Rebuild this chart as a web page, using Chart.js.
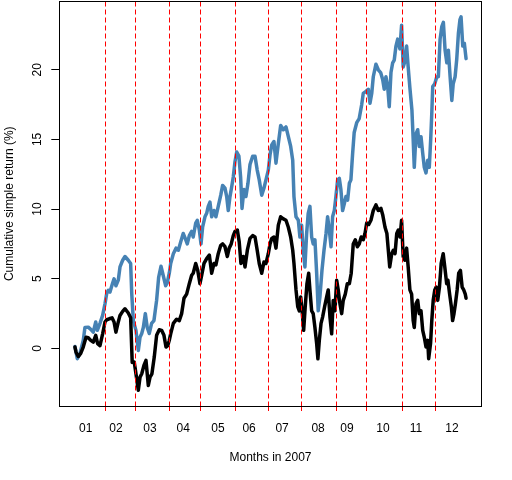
<!DOCTYPE html>
<html>
<head>
<meta charset="utf-8">
<script src="https://cdn.jsdelivr.net/npm/chart.js@4.4.1/dist/chart.umd.min.js"></script>
<style>
  html, body { margin: 0; padding: 0; background: #fff; }
  canvas { display: block; }
</style>
</head>
<body>
<canvas id="returnChart" width="512" height="480"></canvas>
<script>
// month labels and where they sit (trading day index)
const monthLabels = ['01', '02', '03', '04', '05', '06', '07', '08', '09', '10', '11', '12'];
const monthLabelDays = [7.9, 27.2, 49, 70.2, 92.4, 112.3, 133.4, 156.4, 174.9, 197.9, 219, 242];
// boundaries between months (dashed red lines)
const monthBreaks = [20.5, 39.5, 61.5, 81.5, 103.5, 124.5, 145.5, 168.5, 187.5, 210.5, 231.5];
const yTicks = [0, 5, 10, 15, 20];

// blue series: trading day and cumulative return (%)
const blueDays = [1, 2.5, 4.2, 6.3, 7.4, 9.5, 11.7, 12.7, 14.3, 15.3, 17, 18.7, 20.2, 21.3, 22.3, 23.4, 25.1, 26, 27.2, 28.7,
  29.8, 31.5, 33, 35.1, 36.6, 37.3, 38.3, 40, 41.5, 42.6, 43.7, 44.7, 46, 47.2, 48.5, 50, 51.5, 53.2, 54.5, 56,
  57.5, 59, 60, 61.3, 62.2, 63.9, 65.6, 67.1, 68.6, 70.2, 71.5, 72.8, 74.1, 75.6, 76.6, 78.2, 79.2, 80.5, 81.6, 82.6,
  84.1, 85.2, 86.2, 87.3, 88.4, 89.9, 91.1, 92.6, 94.2, 95.4, 96.9, 98, 99, 100.1, 101.2, 102.2, 103.3, 104.4, 105.8, 106.9,
  107.8, 109, 110.3, 111.6, 112.9, 114.6, 116.1, 117.5, 118.8, 120.4, 121.8, 123.1, 124.6, 125.7, 126.8, 128.2, 129.5, 131, 132.5, 134.2,
  135.9, 137.4, 138.9, 140.2, 141, 142.3, 143.8, 144.8, 145.9, 146.9, 148, 149.1, 150.1, 151.2, 152.3, 153.3, 154.4, 155.5, 156.5, 157.6,
  158.9, 160.2, 161.5, 162.5, 163.6, 164.7, 165.7, 166.8, 167.8, 168.9, 170, 171, 172.1, 173.2, 174.2, 175.3, 176.4, 177.4, 178.5, 179.5,
  181.1, 182.7, 184.3, 185.3, 187, 188.5, 189.6, 190.7, 191.7, 193.4, 194.9, 196.4, 197.7, 198.7, 199.8, 200.9, 201.9, 203, 204.1, 205.1,
  206.2, 207.3, 208.7, 209.8, 210.8, 211.9, 213, 214, 215.1, 216.4, 217.2, 217.9, 219, 220.1, 221.1, 222.2, 223.3, 224.3, 225.4, 226.5,
  227.5, 228.4, 229.1, 229.7, 231, 232.3, 233.3, 234.4, 235.5, 236.5, 237.6, 238.7, 239.7, 240.8, 241.9, 242.8, 244, 245, 246.1, 247.1,
  247.8, 248.9, 249.9, 251];
const blueReturn = [0.14, -0.74, -0.36, 0.58, 1.5, 1.53, 1.3, 1.17, 1.9, 1.3, 1.8, 2.37, 3.2, 3.95, 4.17, 4.05, 4.7, 5.0, 4.5, 4.9,
  5.85, 6.33, 6.6, 6.33, 6.1, 3.95, 2.0, 1.3, -0.14, 0.8, 1.07, 1.5, 2.5, 1.5, 1.07, 1.8, 2.0, 3.45, 5.1, 5.9,
  5.2, 4.5, 4.7, 5.4, 6.1, 6.8, 7.2, 7.05, 7.65, 8.25, 7.9, 7.5, 8.1, 8.4, 8.0, 9.0, 9.2, 8.5, 7.5, 8.7,
  9.45, 9.7, 10.2, 10.5, 9.45, 9.9, 9.45, 10.2, 11.0, 11.7, 11.5, 10.9, 9.9, 10.9, 11.6, 12.3, 13.4, 14.1, 13.8, 12.3,
  10.05, 11.4, 10.9, 11.85, 13.2, 13.8, 13.8, 12.8, 12.1, 11.0, 11.5, 12.1, 12.8, 13.9, 14.6, 14.85, 13.3, 14.7, 16.0, 15.7,
  15.9, 15.2, 14.5, 13.5, 10.9, 9.45, 9.2, 8.0, 8.85, 7.05, 5.85, 8.25, 9.7, 10.2, 8.0, 7.5, 7.8, 5.4, 2.7, 3.7,
  5.6, 7.05, 8.25, 9.45, 8.5, 7.3, 9.45, 9.9, 10.9, 12.1, 12.2, 11.4, 9.9, 10.4, 10.9, 10.65, 11.85, 12.1, 14.0, 15.5,
  16.2, 16.5, 17.5, 18.3, 18.45, 18.6, 17.6, 18.3, 19.5, 20.4, 20.0, 19.8, 19.3, 18.6, 19.5, 18.8, 17.35, 19.8, 20.5, 20.7,
  21.7, 22.2, 21.5, 23.2, 20.2, 20.6, 21.7, 20.2, 18.7, 17.1, 15.0, 13.0, 15.4, 15.7, 14.5, 15.2, 14.0, 13.0, 12.6, 13.5,
  13.0, 15.0, 16.9, 18.8, 19.0, 19.5, 19.5, 22.2, 23.1, 23.4, 21.4, 20.5, 21.4, 19.5, 17.8, 19.0, 19.5, 20.7, 22.6, 23.6,
  23.8, 21.7, 21.9, 20.8];

// black series: trading day and cumulative return (%)
const blackDays = [1, 1.7, 3.1, 4.7, 6.3, 8.1, 9.5, 11.1, 12.7, 14.3, 15.5, 17, 18.7, 20.2, 21.3, 22.9, 24.7, 26, 27.2, 28.7,
  29.8, 31.5, 33, 35.1, 36.6, 37.6, 38.9, 40, 41.5, 42.6, 43.7, 45.1, 46.4, 47.9, 49, 50.2, 51.7, 53.2, 54.9, 56.4,
  57.9, 59.2, 60.3, 61.3, 62.2, 63.9, 66, 67.7, 69.2, 70.7, 72.4, 74.1, 75.6, 76.6, 78.2, 79.5, 80.9, 82, 83.5, 85.2,
  86.9, 88.4, 89.9, 91.1, 92.6, 94.2, 95.4, 96.9, 98.4, 99.6, 100.9, 102.2, 103.3, 104.8, 106, 107.1, 108.6, 109.7, 111.2, 112.9,
  114.6, 116.1, 117.5, 118.8, 120.4, 121.8, 123.1, 124.6, 125.7, 126.8, 128.2, 129.5, 131, 132.5, 134.2, 135.9, 137.4, 138.9, 140.2, 141,
  142.3, 143.4, 144.4, 145.3, 146.2, 147.2, 148.2, 149.3, 150.4, 151.2, 152.3, 153.3, 154.4, 155.5, 156.3, 157.2, 158.3, 159.3, 160.6, 161.9,
  162.9, 164, 165.1, 166.1, 167.2, 168.3, 169.3, 170.4, 171.5, 172.5, 173.8, 175.1, 176.4, 177.6, 178.9, 180.2, 181.5, 182.7, 184, 185.3,
  186.4, 187.5, 188.8, 190.2, 191.7, 193.4, 194.9, 196.6, 197.7, 199.2, 200.4, 201.3, 202.2, 203.5, 204.5, 205.6, 206.7, 207.7, 208.8, 209.8,
  210.8, 211.9, 213, 214, 215.1, 216.2, 217.2, 217.9, 219, 220.1, 221.1, 222.2, 223.3, 224.3, 225.4, 226.5, 227.1, 228.3, 229.1, 230,
  231, 231.9, 232.9, 234, 235.1, 236.4, 237.4, 238.6, 239.4, 240.5, 241.6, 242.4, 243.3, 244.2, 245.3, 246.3, 247.4, 248.5, 249.5, 250.5,
  251];
const blackReturn = [0.1, -0.27, -0.58, -0.36, 0.1, 0.8, 0.77, 0.58, 0.45, 0.94, 0.35, 0.2, 1.05, 1.9, 2.06, 2.13, 2.2, 1.9, 1.17, 1.9,
  2.37, 2.66, 2.85, 2.54, 2.2, -1.0, -0.98, -1.82, -3.0, -2.06, -1.82, -1.22, -0.86, -2.66, -2.06, -1.82, -0.62, 0.94, 1.34, 1.3,
  0.94, 0.1, 0.2, 0.58, 1.05, 1.8, 2.1, 2.0, 2.5, 3.6, 3.9, 4.65, 5.25, 5.4, 6.1, 5.6, 4.65, 5.25, 6.1, 6.45,
  6.7, 5.4, 6.1, 6.0, 6.8, 7.4, 7.5, 7.3, 6.6, 7.2, 7.5, 8.1, 8.4, 8.5, 7.65, 6.1, 6.6, 5.85, 7.05, 7.9,
  8.1, 8.0, 7.05, 6.1, 5.4, 6.2, 6.1, 6.8, 7.5, 7.9, 8.0, 7.2, 8.85, 9.45, 9.3, 9.2, 8.7, 8.0, 7.05, 6.1,
  4.2, 3.0, 2.7, 3.7, 2.7, 1.3, 3.0, 4.65, 5.4, 4.2, 2.7, 2.5, 1.5, 0.35, -0.74, 0.58, 1.8, 2.25, 3.0, 3.7,
  4.2, 2.25, 1.05, 3.45, 2.7, 4.9, 4.2, 3.2, 2.5, 3.45, 3.9, 4.65, 4.65, 5.4, 7.5, 7.8, 7.3, 7.5, 8.0, 7.8,
  8.25, 9.0, 8.9, 9.2, 9.9, 10.3, 9.9, 10.05, 9.6, 8.7, 8.25, 7.05, 5.85, 6.8, 7.05, 6.8, 8.25, 8.5, 8.0, 9.2,
  6.6, 6.33, 7.2, 5.85, 4.2, 3.9, 2.0, 1.5, 3.2, 3.45, 2.5, 2.7, 1.3, 0.8, 0.1, 0.58, -0.74, 0.35, 2.0, 3.45,
  4.2, 4.4, 3.45, 4.4, 6.1, 6.8, 5.85, 4.65, 4.9, 3.9, 3.0, 2.0, 2.5, 3.2, 4.2, 5.4, 5.6, 4.4, 4.2, 3.9,
  3.6];

function toPoints(days, values) {
  return days.map((d, i) => ({ x: d, y: values[i] }));
}

const axisFont = { family: "'Liberation Sans', Arial, sans-serif", size: 12 };

// frame round the plot region, like box() in R
const boxPlugin = {
  id: 'box',
  afterDraw(chart) {
    const { ctx, chartArea } = chart;
    const l = Math.floor(chartArea.left) + 0.5;
    const t = Math.floor(chartArea.top) + 0.5;
    const r = Math.floor(chartArea.right) + 0.5;
    const b = Math.floor(chartArea.bottom) + 0.5;
    ctx.save();
    ctx.strokeStyle = '#000000';
    ctx.lineWidth = 1;
    ctx.strokeRect(l, t, r - l, b - t);
    ctx.restore();
  }
};

// R writes the y tick labels turned parallel to the axis
const yLabelPlugin = {
  id: 'yLabels',
  afterDraw(chart) {
    const { ctx } = chart;
    const yScale = chart.scales.y;
    const x = yScale.right - 21.3;
    ctx.save();
    ctx.fillStyle = '#000000';
    ctx.font = "12px 'Liberation Sans', Arial, sans-serif";
    ctx.textAlign = 'center';
    ctx.textBaseline = 'middle';
    yTicks.forEach(v => {
      ctx.save();
      ctx.translate(x, yScale.getPixelForValue(v));
      ctx.rotate(-Math.PI / 2);
      ctx.fillText(String(v), 0, 0);
      ctx.restore();
    });
    ctx.restore();
  }
};

const ctx = document.getElementById('returnChart').getContext('2d');
new Chart(ctx, {
  type: 'line',
  data: {
    datasets: [{
      label: 'black',
      data: toPoints(blackDays, blackReturn),
      borderColor: '#000000',
      borderWidth: 3.5,
      pointRadius: 0,
      tension: 0,
      borderJoinStyle: 'round',
      borderCapStyle: 'round'
    }, {
      label: 'blue',
      data: toPoints(blueDays, blueReturn),
      borderColor: '#4682B4',
      borderWidth: 3.5,
      pointRadius: 0,
      tension: 0,
      borderJoinStyle: 'round',
      borderCapStyle: 'round'
    }]
  },
  options: {
    responsive: false,
    animation: false,
    devicePixelRatio: 1,
    layout: { padding: { left: 0, right: 30.3, top: 1.5, bottom: 0 } },
    plugins: {
      legend: { display: false },
      tooltip: { enabled: false }
    },
    scales: {
      x: {
        type: 'linear',
        position: 'bottom',
        weight: 0,
        min: -9,
        max: 261,
        afterBuildTicks: s => { s.ticks = monthBreaks.map(v => ({ value: v })); },
        afterFit: s => { s.height = 5; s.paddingLeft = 0; s.paddingRight = 0; },
        ticks: { display: false },
        grid: {
          z: 1,
          color: '#ff0000',
          lineWidth: 1,
          drawTicks: true,
          tickLength: 5,
          tickColor: '#ff0000'
        },
        border: { display: false, dash: [5, 3] }
      },
      xm: {
        type: 'linear',
        axis: 'x',
        position: 'bottom',
        weight: 1,
        min: -9,
        max: 261,
        afterBuildTicks: s => { s.ticks = monthLabelDays.map(v => ({ value: v })); },
        afterFit: s => { s.height = 69; s.paddingLeft = 0; s.paddingRight = 0; },
        ticks: {
          autoSkip: false,
          maxRotation: 0,
          padding: 10.8,
          color: '#000000',
          font: axisFont,
          callback: (v, i) => monthLabels[i]
        },
        grid: { display: false, drawTicks: false },
        border: { display: false },
        title: {
          display: true,
          text: 'Months in 2007',
          color: '#000000',
          font: axisFont,
          padding: { top: 0, bottom: 15 }
        }
      },
      y: {
        type: 'linear',
        position: 'left',
        min: -4.13,
        max: 24.9,
        afterBuildTicks: s => { s.ticks = yTicks.map(v => ({ value: v })); },
        afterFit: s => { s.width = 59.3; s.paddingTop = 0; s.paddingBottom = 0; },
        ticks: { display: false },
        grid: {
          drawOnChartArea: false,
          drawTicks: true,
          tickLength: 8,
          color: '#000000',
          lineWidth: 1
        },
        border: { display: false },
        title: {
          display: true,
          text: 'Cumulative simple return (%)',
          color: '#000000',
          font: axisFont,
          padding: { top: 2, bottom: 0 }
        }
      }
    }
  },
  plugins: [boxPlugin, yLabelPlugin]
});
</script>
</body>
</html>
